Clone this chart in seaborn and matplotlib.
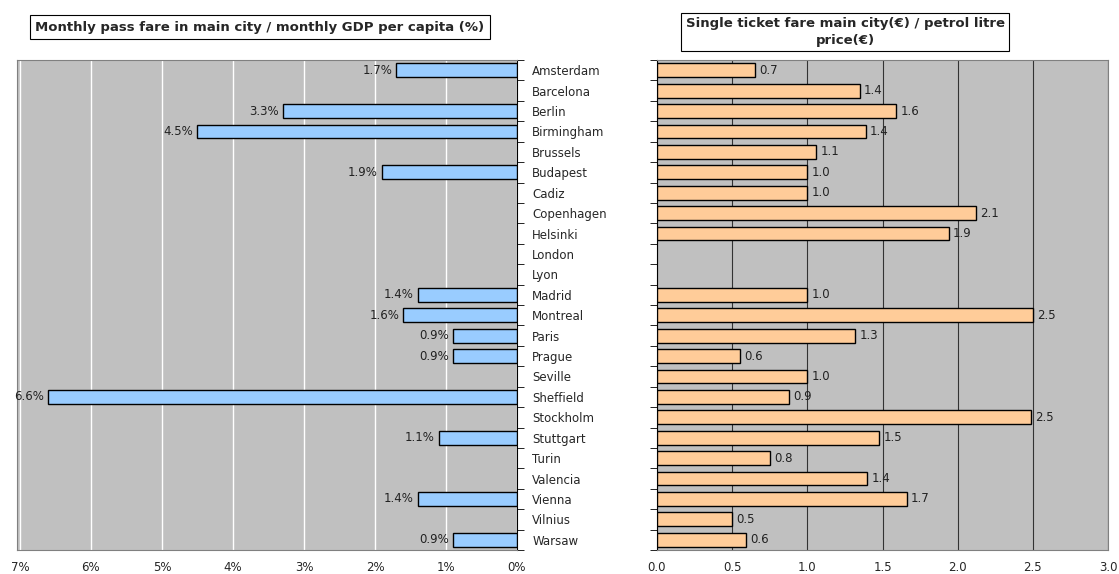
import matplotlib
matplotlib.use("Agg")
import matplotlib.pyplot as plt
import seaborn as sns
import numpy as np
import pandas as pd

# City list (top to bottom as shown)
cities = ["Amsterdam", "Barcelona", "Berlin", "Birmingham", "Brussels", "Budapest",
          "Cadiz", "Copenhagen", "Helsinki", "London", "Lyon", "Madrid", "Montreal",
          "Paris", "Prague", "Seville", "Sheffield", "Stockholm", "Stuttgart", "Turin",
          "Valencia", "Vienna", "Vilnius", "Warsaw"]

# Monthly pass fare / monthly GDP per capita (%) - None where no data
pass_pct = [1.7, None, 3.3, 4.5, None, 1.9, None, None, None, None, None, 1.4, 1.6,
            0.9, 0.9, None, 6.6, None, 1.1, None, None, 1.4, None, 0.9]

# Single ticket fare / petrol litre price
ticket_ratio = [0.65, 1.35, 1.59, 1.39, 1.06, 1.0, 1.0, 2.12, 1.94, None, None, 1.0, 2.5,
                1.32, 0.55, 1.0, 0.88, 2.49, 1.48, 0.75, 1.4, 1.66, 0.5, 0.59]

df = pd.DataFrame({"city": cities,
                   "pass_pct": pd.Series(pass_pct, dtype="float"),
                   "ticket": pd.Series(ticket_ratio, dtype="float")})

sns.set_style("white")
plt.rcParams["font.family"] = ["DejaVu Sans"]

fig = plt.figure(figsize=(11.19, 5.74), dpi=100)
W, H = 1119, 574
ax1 = fig.add_axes([17 / W, 1 - 550 / H, 500 / W, 490 / H])
ax2 = fig.add_axes([657 / W, 1 - 550 / H, 451 / W, 490 / H])

bg = "#C0C0C0"
n = len(cities)

# ---- Left panel: pass fare as % of GDP per capita ----
sns.barplot(data=df, x="pass_pct", y="city", orient="h", ax=ax1,
            color="#99CCFF", saturation=1, edgecolor="black", linewidth=1,
            width=0.68, zorder=3)
ax1.set_facecolor(bg)
ax1.set_xlim(7.04, 0)
ax1.set_ylim(n - 0.5, -0.5)
ax1.set_xticks(range(0, 8))
ax1.set_xticklabels([f"{i}%" for i in range(0, 8)], fontsize=8.5)
ax1.grid(axis="x", color="white", linewidth=1, zorder=0)
ax1.set_axisbelow(True)
ax1.yaxis.tick_right()
ax1.set_yticks(range(n))
ax1.set_yticklabels(cities, fontsize=8.5)
ax1.set_yticks(np.arange(-0.5, n, 1), minor=True)
ax1.tick_params(axis="y", which="major", length=0, pad=11)
ax1.tick_params(axis="y", which="minor", length=5, direction="out", right=True, left=False, color="black")
ax1.tick_params(axis="x", length=0, pad=8)
ax1.set_xlabel("")
ax1.set_ylabel("")
for s in ax1.spines.values():
    s.set_color("#808080")
ax1.spines["right"].set_color("black")
for i, v in enumerate(df["pass_pct"]):
    if not np.isnan(v):
        ax1.annotate(f"{v:.1f}%", (v, i), xytext=(-3, 0), textcoords="offset points",
                     ha="right", va="center", fontsize=8.5, color="#222222")

# ---- Right panel: single ticket / petrol litre ----
sns.barplot(data=df, x="ticket", y="city", orient="h", ax=ax2,
            color="#FFCC99", saturation=1, edgecolor="black", linewidth=1,
            width=0.68, zorder=3)
ax2.set_facecolor(bg)
ax2.set_xlim(0, 3)
ax2.set_ylim(n - 0.5, -0.5)
ax2.set_xticks(np.arange(0, 3.01, 0.5))
ax2.set_xticklabels([f"{v:.1f}" for v in np.arange(0, 3.01, 0.5)], fontsize=8.5)
ax2.grid(axis="x", color="#333333", linewidth=0.8, zorder=0)
ax2.set_axisbelow(True)
ax2.set_yticks(range(n))
ax2.set_yticklabels([])
ax2.set_yticks(np.arange(-0.5, n, 1), minor=True)
ax2.tick_params(axis="y", which="major", length=0)
ax2.tick_params(axis="y", which="minor", length=5, direction="out", left=True, color="black")
ax2.tick_params(axis="x", length=0, pad=8)
ax2.set_xlabel("")
ax2.set_ylabel("")
for s in ax2.spines.values():
    s.set_color("#808080")
ax2.spines["left"].set_color("black")
for i, v in enumerate(df["ticket"]):
    if not np.isnan(v):
        ax2.annotate(f"{v:.1f}", (v, i), xytext=(3, 0), textcoords="offset points",
                     ha="left", va="center", fontsize=8.5, color="#222222")

# ---- Boxed titles ----
fig.text(260 / W, 1 - 27 / H, "Monthly pass fare in main city / monthly GDP per capita (%)",
         ha="center", va="center", fontsize=9.5, fontweight="bold",
         bbox=dict(facecolor="white", edgecolor="black", linewidth=0.8, pad=4))
fig.text(845 / W, 1 - 32 / H, "Single ticket fare main city(€) / petrol litre\nprice(€)",
         ha="center", va="center", fontsize=9.5, fontweight="bold", linespacing=1.45,
         bbox=dict(facecolor="white", edgecolor="black", linewidth=0.8, pad=3))

fig.savefig("out.png", dpi=100)
